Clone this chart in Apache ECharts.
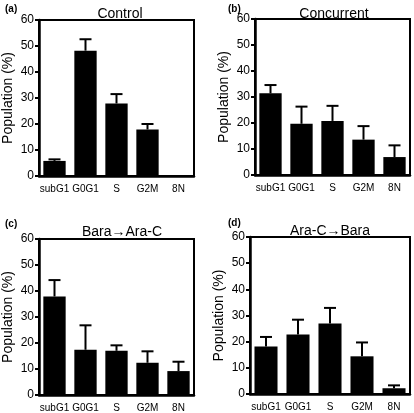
<!DOCTYPE html>
<html><head><meta charset="utf-8">
<script src="https://cdn.jsdelivr.net/npm/echarts@6/dist/echarts.min.js"></script>
<style>html,body{margin:0;padding:0;background:#fff}#c{width:414px;height:413px}</style>
</head><body><div id="c"></div>
<script>
var categories = ['subG1', 'G0G1', 'S', 'G2M', '8N'];
var yTicks = [0, 10, 20, 30, 40, 50, 60];
var panelTitles = ['Control', 'Concurrent', 'Bara\u2192Ara-C', 'Ara-C\u2192Bara'];
var panelLetters = ['(a)', '(b)', '(c)', '(d)'];

var controlMean = [5.8, 48.2, 27.9, 17.9, 0];
var controlErr = [0.6, 4.4, 3.6, 2.1, 0];
var concurrentMean = [31.4, 19.7, 20.8, 13.6, 6.9];
var concurrentErr = [3.2, 6.6, 5.8, 5.2, 4.5];
var baraAraMean = [37.9, 17.4, 17.0, 12.4, 9.2];
var baraAraErr = [6.3, 9.4, 2.1, 4.4, 3.6];
var araBaraMean = [18.2, 22.7, 26.9, 14.4, 2.2];
var araBaraErr = [3.6, 5.7, 6.0, 5.3, 1.1];

var means = [controlMean, concurrentMean, baraAraMean, araBaraMean];
var errs = [controlErr, concurrentErr, baraAraErr, araBaraErr];

var grids = [
  {left: 37, top: 20, width: 157, height: 156},
  {left: 255, top: 19, width: 155, height: 156},
  {left: 37, top: 239, width: 157, height: 159},
  {left: 250, top: 237, width: 160, height: 157}
];
var titlePos = [[115, 2], [329, 2], [117, 220], [325, 219]];
var letterPos = [[0, -1], [223, -1], [0, 214], [223, 213]];
var font = 'Liberation Sans, Arial, sans-serif';

var option = {
  animation: false,
  backgroundColor: '#fff',
  title: [],
  grid: [], xAxis: [], yAxis: [], series: []
};
for (var i = 0; i < 4; i++) {
  option.title.push({text: panelTitles[i], left: titlePos[i][0], top: titlePos[i][1], textAlign: 'center',
    textStyle: {fontFamily: font, fontSize: 14, fontWeight: 'normal', color: '#000'}});
  option.title.push({text: panelLetters[i], left: letterPos[i][0], top: letterPos[i][1],
    textStyle: {fontFamily: font, fontSize: 10, fontWeight: 'bold', color: '#000'}});
  var g = grids[i];
  option.grid.push({left: g.left, top: g.top, width: g.width, height: g.height, show: true,
    borderColor: '#000', borderWidth: 2, backgroundColor: 'transparent'});
  option.xAxis.push({type: 'category', gridIndex: i, data: categories,
    axisLine: {lineStyle: {color: '#000', width: 2.5}},
    axisTick: {alignWithLabel: true, length: 4, lineStyle: {color: '#000', width: 2}},
    axisLabel: {fontFamily: font, fontSize: 10, color: '#000', margin: 8, interval: 0}});
  option.yAxis.push({type: 'value', gridIndex: i, min: 0, max: 60, interval: 10,
    name: 'Population (%)', nameLocation: 'middle', nameGap: 24,
    nameTextStyle: {fontFamily: font, fontSize: 14, color: '#000'},
    splitLine: {show: false},
    axisLine: {show: true, lineStyle: {color: '#000', width: 2.5}},
    axisTick: {show: true, length: 4, lineStyle: {color: '#000', width: 2}},
    axisLabel: {fontFamily: font, fontSize: 12, color: '#000', margin: 5}});
  option.series.push({type: 'bar', xAxisIndex: i, yAxisIndex: i, data: means[i], barWidth: '72%',
    itemStyle: {color: '#000'}, z: 2});
  (function (m, e) {
    var d = m.map(function (v, k) { return [k, v, v + e[k]]; });
    option.series.push({type: 'custom', xAxisIndex: i, yAxisIndex: i, data: d, z: 3,
      renderItem: function (params, api) {
        if (api.value(2) <= api.value(1)) return null;
        var p0 = api.coord([api.value(0), api.value(1)]);
        var p1 = api.coord([api.value(0), api.value(2)]);
        var hw = 6;
        var st = {stroke: '#000', lineWidth: 2};
        return {type: 'group', children: [
          {type: 'line', shape: {x1: p0[0], y1: p0[1], x2: p1[0], y2: p1[1]}, style: st},
          {type: 'line', shape: {x1: p1[0] - hw, y1: p1[1], x2: p1[0] + hw, y2: p1[1]}, style: st}
        ]};
      }});
  })(means[i], errs[i]);
}
var chart = echarts.init(document.getElementById('c'), null, {renderer: 'canvas'});
chart.setOption(option);
</script></body></html>
